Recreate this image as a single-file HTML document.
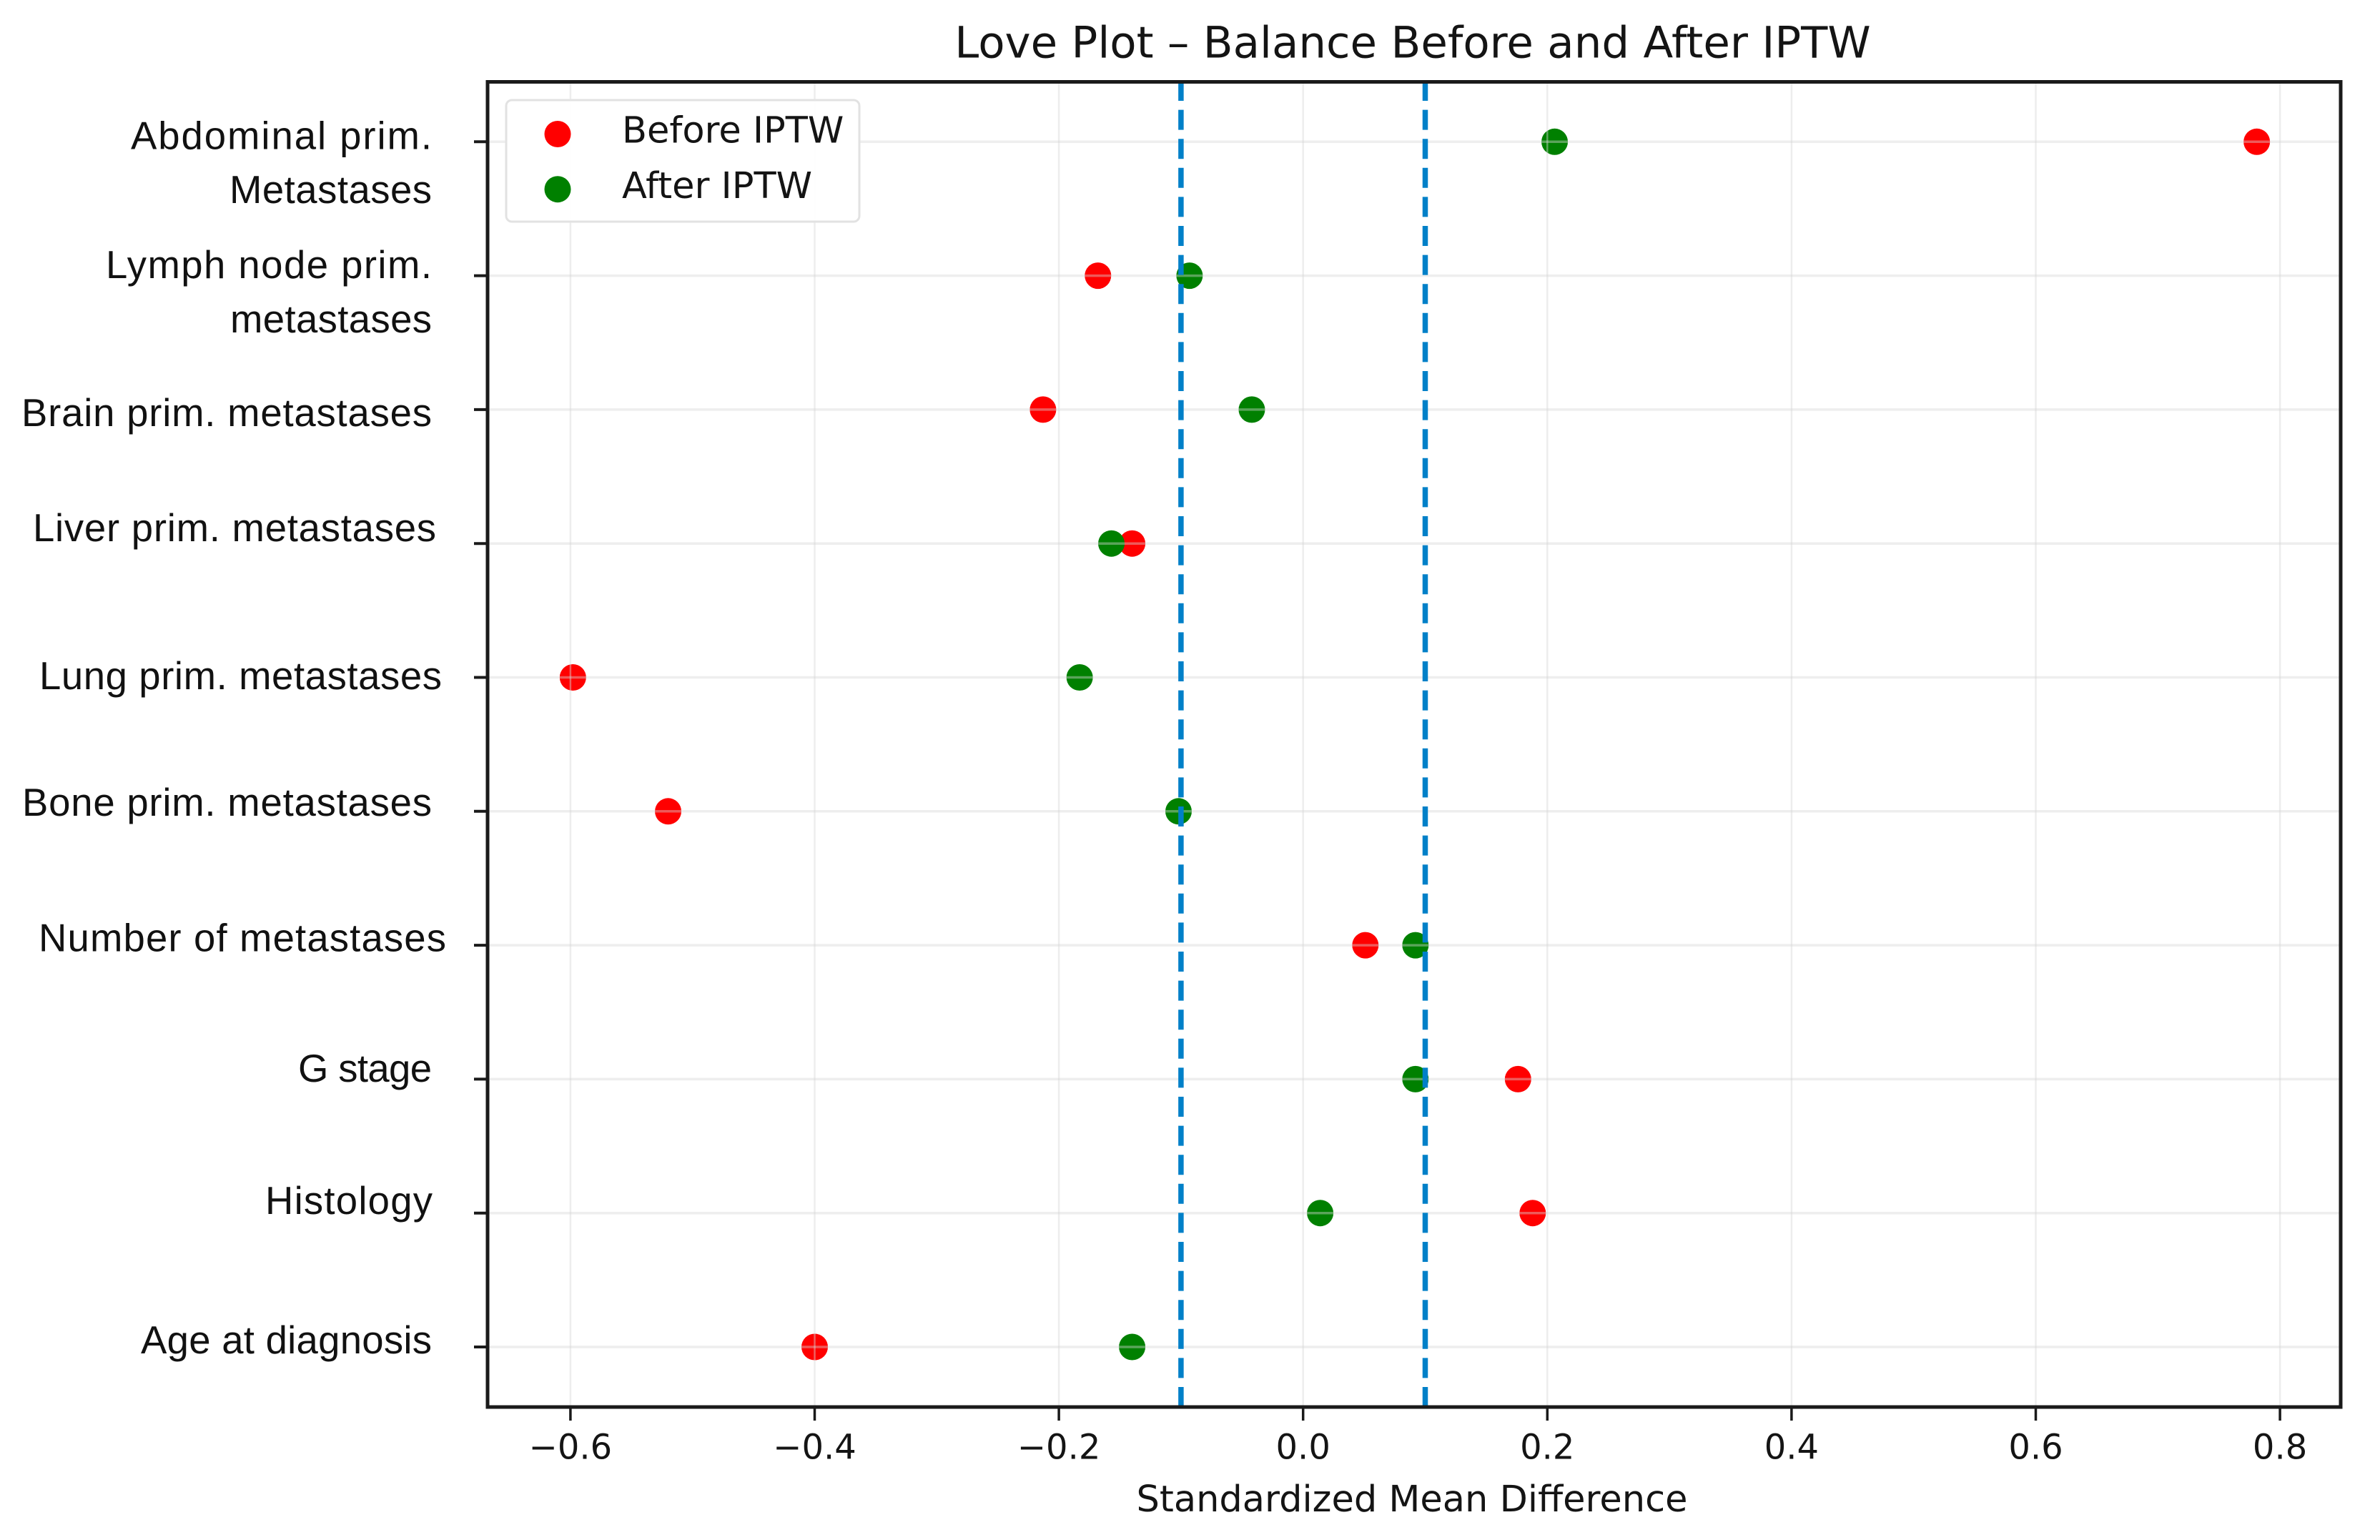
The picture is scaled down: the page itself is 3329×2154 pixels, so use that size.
<!DOCTYPE html>
<html lang="en">
<head>
<meta charset="utf-8">
<title>Love Plot – Balance Before and After IPTW</title>
<style>
  html, body { margin: 0; padding: 0; background: #ffffff; }
  svg { display: block; }
  .dv { font-family: "DejaVu Sans", "Liberation Sans", sans-serif; fill: #141414; }
  .yl { font-family: "Liberation Sans", "DejaVu Sans", sans-serif; font-size: 54.5px; fill: #111111; text-anchor: end; }
</style>
</head>
<body>
<svg id="chart" xmlns="http://www.w3.org/2000/svg" width="3329" height="2154" viewBox="0 0 3329 2154">
  <rect x="0" y="0" width="3329" height="2154" fill="#ffffff"/>
  <g id="plot-layer"></g>

  <rect x="682" y="114.5" width="2592" height="1853.5" fill="none" stroke="#1a1a1a" stroke-width="5"/>

  <text class="dv" x="1976" y="80.5" font-size="61" text-anchor="middle">Love Plot – Balance Before and After IPTW</text>
  <text class="dv" x="1975" y="2114" font-size="51" text-anchor="middle">Standardized Mean Difference</text>

  <g>
    <text class="yl" x="604" y="208.5" textLength="421">Abdominal prim.</text>
    <text class="yl" x="604" y="284" textLength="283">Metastases</text>
    <text class="yl" x="604" y="389" textLength="456">Lymph node prim.</text>
    <text class="yl" x="604" y="465" textLength="282">metastases</text>
    <text class="yl" x="604" y="596" textLength="574">Brain prim. metastases</text>
    <text class="yl" x="610" y="757" textLength="564">Liver prim. metastases</text>
    <text class="yl" x="618" y="964" textLength="563">Lung prim. metastases</text>
    <text class="yl" x="604" y="1141" textLength="573">Bone prim. metastases</text>
    <text class="yl" x="624" y="1330.5" textLength="570">Number of metastases</text>
    <text class="yl" x="604" y="1513" textLength="187">G stage</text>
    <text class="yl" x="605" y="1698" textLength="234">Histology</text>
    <text class="yl" x="604" y="1893" textLength="407">Age at diagnosis</text>
  </g>

  <g>
    <rect x="708" y="140" width="494" height="170" rx="8" ry="8" fill="#ffffff" fill-opacity="0.95" stroke="#e2e2e2" stroke-width="3"/>
    <circle cx="780" cy="187.5" r="18.5" fill="#ff0000"/>
    <text class="dv" x="870" y="199.5" font-size="51">Before IPTW</text>
    <circle cx="780" cy="264.7" r="18.5" fill="#008000"/>
    <text class="dv" x="870" y="276.8" font-size="51">After IPTW</text>
  </g>
</svg>

<script>
// Chart data
const categories = [
  "Abdominal prim. Metastases",
  "Lymph node prim. metastases",
  "Brain prim. metastases",
  "Liver prim. metastases",
  "Lung prim. metastases",
  "Bone prim. metastases",
  "Number of metastases",
  "G stage",
  "Histology",
  "Age at diagnosis"
];
const beforeIPTW = [0.781, -0.168, -0.213, -0.140, -0.598, -0.520, 0.051, 0.176, 0.188, -0.400];
const afterIPTW = [0.206, -0.093, -0.042, -0.157, -0.183, -0.102, 0.092, 0.092, 0.014, -0.140];
const xTickValues = [-0.6, -0.4, -0.2, 0.0, 0.2, 0.4, 0.6, 0.8];
const xTickLabels = ["\u22120.6", "\u22120.4", "\u22120.2", "0.0", "0.2", "0.4", "0.6", "0.8"];
const thresholds = [-0.1, 0.1];

// Axis functions
const xScale = function (v) { return 1822.7 + 1708 * v; };
const yScale = function (i) { return 198.3 + 187.3 * i; };

const SVG_NS = "http://www.w3.org/2000/svg";
const layer = document.getElementById("plot-layer");
const chart = document.getElementById("chart");
const PLOT_LEFT = 682, PLOT_RIGHT = 3274, PLOT_TOP = 114.5, PLOT_BOTTOM = 1968;

function line(parent, x1, y1, x2, y2, stroke, width) {
  const el = document.createElementNS(SVG_NS, "line");
  el.setAttribute("x1", x1);
  el.setAttribute("y1", y1);
  el.setAttribute("x2", x2);
  el.setAttribute("y2", y2);
  el.setAttribute("stroke", stroke);
  el.setAttribute("stroke-width", width);
  parent.appendChild(el);
  return el;
}

function dot(cx, cy, fill) {
  const el = document.createElementNS(SVG_NS, "circle");
  el.setAttribute("cx", cx);
  el.setAttribute("cy", cy);
  el.setAttribute("r", 18.5);
  el.setAttribute("fill", fill);
  layer.appendChild(el);
  return el;
}

// Red series first, green drawn above it
beforeIPTW.forEach(function (v, i) {
  const el = dot(xScale(v), yScale(i), "#ff0000");
  
  
  el.setAttribute("aria-label", categories[i]);
});
afterIPTW.forEach(function (v, i) {
  const el = dot(xScale(v), yScale(i), "#008000");
  
  
  el.setAttribute("aria-label", categories[i]);
});

// Gridlines sit faintly over the markers
xTickValues.forEach(function (v) {
  const el = line(layer, xScale(v), PLOT_TOP, xScale(v), PLOT_BOTTOM, "rgba(215,215,215,0.45)", 2.5);
  
  
});
categories.forEach(function (c, i) {
  const el = line(layer, PLOT_LEFT, yScale(i), PLOT_RIGHT, yScale(i), "rgba(215,215,215,0.42)", 3.5);
  
  
});

// Threshold lines, dashes start from the bottom of the axes
thresholds.forEach(function (v) {
  const el = line(layer, xScale(v), PLOT_BOTTOM, xScale(v), PLOT_TOP, "#0080c8", 7.5);
  el.setAttribute("stroke-dasharray", "28 12.6");
  
  
});

// Ticks
categories.forEach(function (c, i) {
  const el = line(chart, 663, yScale(i), PLOT_LEFT, yScale(i), "#1a1a1a", 4);
  
  
});
xTickValues.forEach(function (v, i) {
  const tick = line(chart, xScale(v), PLOT_BOTTOM, xScale(v), 1987, "#1a1a1a", 3.5);
  
  
  const label = document.createElementNS(SVG_NS, "text");
  label.setAttribute("class", "dv");
  label.setAttribute("x", xScale(v));
  label.setAttribute("y", 2040.5);
  label.setAttribute("font-size", 48);
  label.setAttribute("text-anchor", "middle");
  label.textContent = xTickLabels[i];
  
  
  chart.appendChild(label);
});
</script>
</body>
</html>
